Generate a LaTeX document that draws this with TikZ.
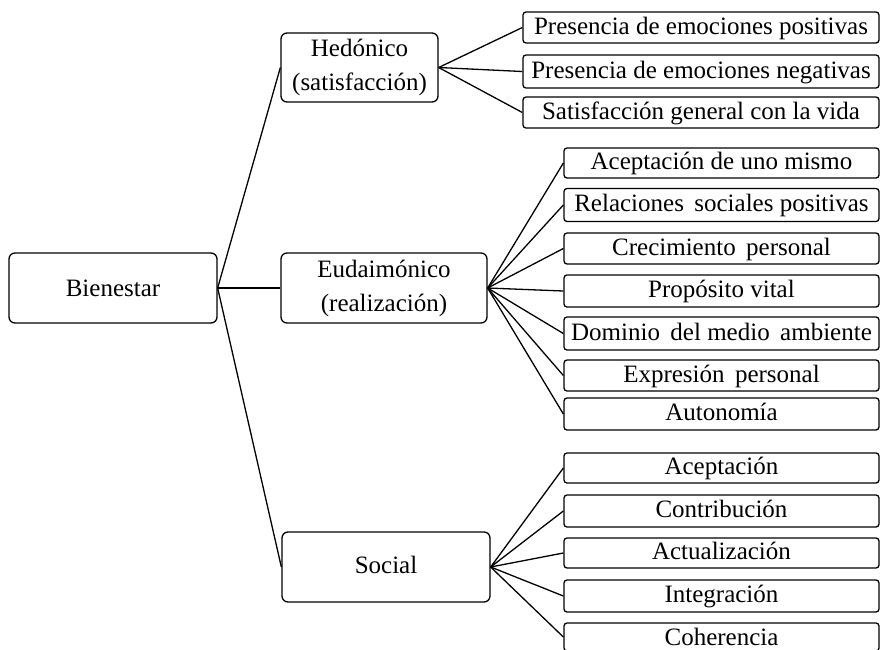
\documentclass[tikz,border=0pt]{standalone}
\usepackage{fontspec}
\setmainfont{Liberation Serif}
\begin{document}
\begin{tikzpicture}[x=1pt,y=-1pt,
  every node/.style={font=\fontsize{25}{34}\selectfont, inner sep=0pt},
  mainbox/.style={draw, line width=1.3pt, rounded corners=6pt, align=center,
    minimum width=#1, minimum height=70pt},
  leafbox/.style={draw, line width=1.3pt, rounded corners=3pt,
    minimum width=#1, text height=18pt, text depth=5pt},
  link/.style={line width=1.3pt}]
\useasboundingbox (0,0) rectangle (881,649);
\clip (0,0) rectangle (881,649);

% root and the three branches
\node[mainbox=208pt] (bien) at (113,288) {Bienestar};
\node[mainbox=157pt, minimum height=69pt] (hed) at (359.5,67.5) {Hedónico\\(satisfacción)};
\node[mainbox=206pt] (eud) at (384,288) {Eudaimónico\\ (realización)};
\node[mainbox=208pt, text height=17pt, text depth=5pt] (soc) at (386,567) {Social};

% hedonic leaves
\node[leafbox=356pt, minimum height=31pt] (h1) at (701,27.5) {Presencia de emociones positivas};
\node[leafbox=356pt, minimum height=33pt] (h2) at (701,71.5) {Presencia de emociones negativas};
\node[leafbox=356pt, minimum height=31pt] (h3) at (701,112.5) {Satisfacción general con la vida};

% eudaimonic leaves
\node[leafbox=315pt, minimum height=30pt] (e1) at (721.5,163) {Aceptación de uno mismo};
\node[leafbox=315pt, minimum height=33pt] (e2) at (721.5,205) {Relaciones\, sociales positivas};
\node[leafbox=315pt, minimum height=31pt] (e3) at (721.5,248.5) {Crecimiento\, personal};
\node[leafbox=315pt, minimum height=32pt] (e4) at (721.5,291) {Propósito vital};
\node[leafbox=315pt, minimum height=33pt] (e5) at (721.5,333.5) {Dominio\, del medio\, ambiente};
\node[leafbox=315pt, minimum height=31pt] (e6) at (721.5,375.5) {Expresión\, personal};
\node[leafbox=315pt, minimum height=32pt] (e7) at (721.5,414) {Autonomía};

% social leaves (the last box runs past the lower edge)
\node[leafbox=315pt, minimum height=30pt] (s1) at (721.5,468) {Aceptación};
\node[leafbox=315pt, minimum height=32pt] (s2) at (721.5,511) {Contribución};
\node[leafbox=315pt, minimum height=30pt] (s3) at (721.5,553) {Actualización};
\node[leafbox=315pt, minimum height=32pt] (s4) at (721.5,596) {Integración};
\node[leafbox=315pt, minimum height=28pt, text height=20pt, text depth=4pt] (s5) at (721.5,637) {Coherencia};

% connectors
\foreach \t in {hed,eud,soc} \draw[link] (bien.east) -- (\t.west);
\foreach \t in {h1,h2,h3} \draw[link] (hed.east) -- (\t.west);
\foreach \t in {e1,e2,e3,e4,e5,e6,e7} \draw[link] (eud.east) -- (\t.west);
\foreach \t in {s1,s2,s3,s4,s5} \draw[link] (soc.east) -- (\t.west);
\end{tikzpicture}
\end{document}
